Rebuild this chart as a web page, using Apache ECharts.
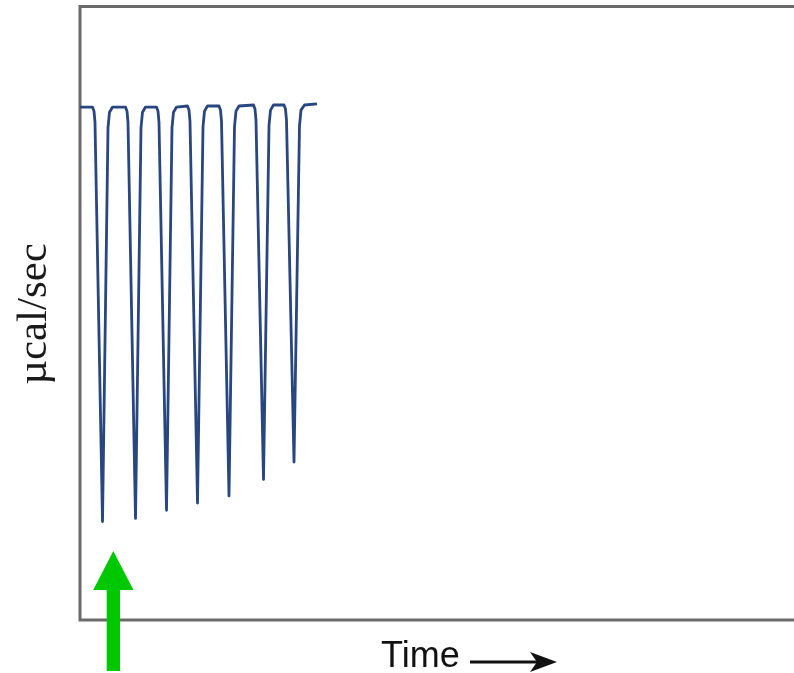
<!DOCTYPE html>
<html>
<head>
<meta charset="utf-8">
<script src="https://cdn.jsdelivr.net/npm/echarts@6/dist/echarts.min.js"></script>
<style>
html,body{margin:0;padding:0;background:#fff;}
#chart{width:794px;height:673px;}
</style>
</head>
<body>
<div id="chart"></div>
<script>
// Time (arbitrary units) and heat flow (µcal/sec)
var timeValues = [
  0.0,
  2.5, 2.8, 3.0, 4.5, 5.6, 5.9, 6.5,
  9.1, 9.4, 9.6, 11.1, 12.2, 12.5, 13.1,
  15.3, 15.6, 15.8, 17.3, 18.4, 18.7, 19.3,
  21.5, 21.8, 22.0, 23.5, 24.6, 24.9, 25.5,
  27.8, 28.1, 28.3, 29.8, 30.9, 31.2, 31.8,
  34.7, 35.0, 35.2, 36.7, 37.8, 38.1, 38.7,
  40.8, 41.1, 41.3, 42.8, 43.9, 44.2, 44.9,
  47.4
];
var heatValues = [
  0.00,
  0.00, -0.04, -0.15, -4.04, -0.20, -0.05, 0.00,
  0.00, -0.04, -0.15, -4.01, -0.20, -0.05, 0.00,
  0.00, -0.04, -0.15, -3.93, -0.20, -0.05, 0.00,
  0.01, -0.03, -0.14, -3.86, -0.19, -0.04, 0.01,
  0.01, -0.03, -0.14, -3.79, -0.19, -0.04, 0.01,
  0.02, -0.02, -0.13, -3.63, -0.18, -0.03, 0.02,
  0.02, -0.02, -0.13, -3.46, -0.18, -0.03, 0.02,
  0.03
];
var yAxisLabel = 'µcal/sec';
var xAxisLabel = 'Time';

var seriesData = timeValues.map(function (t, i) { return [t, heatValues[i]]; });

var chart = echarts.init(document.getElementById('chart'), null, {renderer: 'canvas'});
chart.setOption({
  animation: false,
  backgroundColor: '#ffffff',
  grid: {
    left: 80, top: 6.5, right: -36, bottom: 53,
    outerBoundsMode: 'none', containLabel: false,
    show: true, borderColor: '#6b6b6b', borderWidth: 3, backgroundColor: 'transparent'
  },
  xAxis: {
    type: 'value', min: 0, max: 150, show: false
  },
  yAxis: {
    type: 'value', min: -5, max: 0.98, show: false
  },
  series: [{
    type: 'line',
    data: seriesData,
    showSymbol: false,
    lineStyle: {color: '#28467f', width: 2.8, join: 'round'},
    itemStyle: {color: '#28467f'}
  }],
  graphic: [
    {
      type: 'text', x: 35, y: 314, rotation: Math.PI / 2,
      style: {text: yAxisLabel, align: 'center', verticalAlign: 'middle',
        font: '43px "Liberation Serif", "DejaVu Serif", serif', fill: '#1a1a1a'}
    },
    {
      type: 'text', x: 381, y: 657,
      style: {text: xAxisLabel, align: 'left', verticalAlign: 'middle',
        font: '36px "Liberation Sans", Arial, sans-serif', fill: '#111'}
    },
    {
      type: 'line', shape: {x1: 470, y1: 662, x2: 540, y2: 662},
      style: {stroke: '#111', lineWidth: 3}
    },
    {
      type: 'polygon', shape: {points: [[530, 652], [557, 662], [530, 672], [537, 662]]},
      style: {fill: '#111'}
    },
    {
      type: 'polygon',
      shape: {points: [[113.3, 551], [133.5, 590], [120, 590], [120, 671], [106.7, 671], [106.7, 590], [93.2, 590]]},
      style: {fill: '#00c800'}, z: 100
    }
  ]
});
</script>
</body>
</html>
